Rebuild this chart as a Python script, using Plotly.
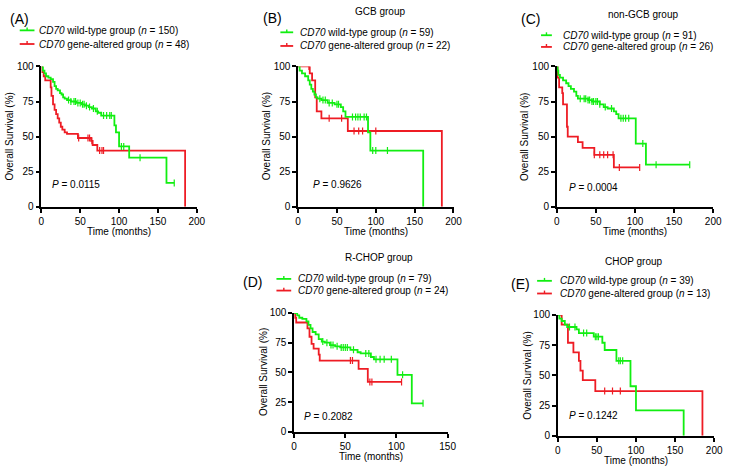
import numpy as np
import plotly.graph_objects as go

W, H = 733, 472
GREEN = '#11ee11'
RED = '#ee1c24'
FONT = 'Arial, Liberation Sans, sans-serif'

panel_ids = ['A', 'B', 'C', 'D', 'E']
panel_titles = ['', 'GCB group', 'non-GCB group', 'R-CHOP group', 'CHOP group']
p_values = ['0.0115', '0.9626', '0.0004', '0.2082', '0.1242']
n_wild = [150, 59, 91, 79, 39]
n_alt = [48, 22, 26, 24, 13]
x_max = [200, 200, 200, 150, 200]

# Kaplan-Meier step points (time in months, survival %), end time, censor times
wt_t = [
    [0, 2, 4, 6, 9, 12, 15, 17, 19, 21, 24, 26, 28, 30, 33, 38, 45, 52, 56, 61, 65, 70, 73, 77, 94, 96, 100, 113, 161],
    [0, 2, 5, 9, 13, 15, 17, 19, 21, 23, 25, 30, 38, 47, 55, 58, 61, 90, 93, 161],
    [0, 1, 2, 4, 8, 12, 15, 18, 22, 25, 27, 40, 45, 55, 60, 65, 73, 76, 79, 101, 114],
    [0, 3, 5, 8, 12, 14, 16, 18, 21, 24, 27, 30, 35, 40, 45, 55, 62, 65, 75, 78, 101, 115],
    [0, 2, 5, 9, 12, 24, 27, 46, 57, 60, 75, 93, 100, 161],
]
wt_s = [
    [100, 97, 95, 93, 92, 91, 89, 86, 84, 83, 81, 80, 78, 77, 76, 75, 74, 73, 72, 71, 70, 68, 67, 65, 58, 53, 43, 35, 17],
    [100, 97, 95, 93, 90, 87, 84, 82, 80, 78, 77, 76, 74, 73, 71, 68, 64, 53, 40, 0],
    [100, 97, 94, 92, 90, 88, 86, 84, 82, 79, 77, 76, 75, 73, 71, 70, 68, 66, 63, 45, 30],
    [100, 98, 96, 95, 93, 90, 87, 84, 82, 78, 76, 75, 73, 72, 71, 69, 67, 66, 63, 61, 48, 24],
    [100, 97, 95, 92, 90, 88, 85, 82, 77, 71, 62, 41, 21, 0],
]
wt_end = [171, 161, 170, 126, 161]
wt_cens = [
    [35, 38, 42, 44, 47, 50, 53, 55, 58, 62, 67, 72, 80, 84, 88, 90, 103, 106, 127, 171],
    [28, 32, 35, 40, 44, 50, 52, 70, 74, 77, 80, 85, 88, 96, 100, 115],
    [30, 35, 37, 40, 42, 45, 47, 50, 52, 55, 62, 70, 82, 85, 88, 92, 110, 127, 170],
    [28, 32, 36, 38, 42, 46, 48, 50, 52, 58, 70, 73, 80, 84, 88, 95, 106, 126],
    [15, 22, 33, 37, 48, 50, 52, 78, 80, 83],
]

alt_t = [
    [0, 1, 3, 5, 12, 13, 15, 17, 19, 21, 23, 25, 27, 30, 33, 47, 64, 66, 72, 185],
    [0, 15, 18, 22, 24, 30, 64, 185],
    [0, 1, 3, 7, 8, 13, 14, 27, 33, 48, 73],
    [0, 1, 2, 13, 15, 17, 19, 24, 25, 63, 72],
    [0, 5, 13, 20, 27, 29, 32, 48, 185],
]
alt_s = [
    [100, 96, 93, 90, 85, 79, 73, 69, 66, 63, 60, 57, 55, 53, 52, 49, 47, 44, 40, 0],
    [100, 95, 90, 78, 68, 63, 54, 0],
    [100, 92, 85, 81, 73, 57, 50, 46, 42, 37, 28],
    [100, 96, 92, 87, 80, 74, 70, 65, 60, 53, 42],
    [100, 92, 77, 69, 62, 54, 46, 37, 0],
]
alt_end = [185, 185, 106, 105, 185]
alt_cens = [
    [48, 60, 62, 65, 75, 78, 80],
    [14, 40, 56, 72, 78, 83, 100],
    [48, 55, 60, 65, 72, 80, 106],
    [55, 57, 74, 76, 105],
    [60, 70, 80],
]

# panel geometry in pixels: axis x0, x1, y_top, y_bottom
boxes = [
    (39, 197, 62, 206),
    (300, 458, 62, 206),
    (563, 722, 62, 206),
    (296, 452, 315, 437),
    (564, 723, 317, 441),
]
label_pos = [(5, 13), (262, 12), (525, 13), (242, 283), (514, 285)]
title_pos = [(0, 0), (383, 6), (651, 9), (382, 258), (642, 262)]
legend_pos = [(17, 32, 35, 25, 39), (282, 295, 300, 27, 41), (547, 558, 567, 30, 42),
              (278, 293, 298, 280, 292), (543, 558, 564, 282, 295)]
p_pos = [(48, 183), (313, 183), (573, 186), (304, 421), (573, 420)]
ytitle_x = [7, 268, 530, 265, 533]
xtitle_y = [231, 231, 231, 462, 466]


def px(x):
    return x / W


def py(y):
    return 1 - y / H


def step_xy(t, s, end):
    x = list(t)
    y = list(s)
    if end > x[-1]:
        x.append(end)
        y.append(y[-1])
    return x, y


def cens_y(t, s, c):
    idx = np.searchsorted(np.array(t), np.array(c), side='right') - 1
    return list(np.array(s)[idx])


fig = go.Figure()
shapes = []
annotations = []

for i in range(5):
    xa = 'x' if i == 0 else f'x{i + 1}'
    ya = 'y' if i == 0 else f'y{i + 1}'
    for t, s, end, cens, col in [(alt_t[i], alt_s[i], alt_end[i], alt_cens[i], RED),
                                 (wt_t[i], wt_s[i], wt_end[i], wt_cens[i], GREEN)]:
        sx, sy = step_xy(t, s, end)
        fig.add_trace(go.Scatter(x=sx, y=sy, mode='lines', line=dict(color=col, width=1.8, shape='hv'),
                                 xaxis=xa, yaxis=ya, showlegend=False, hoverinfo='skip'))
        fig.add_trace(go.Scatter(x=cens, y=cens_y(t, s, cens), mode='markers',
                                 marker=dict(symbol='line-ns-open', size=5, color=col,
                                             line=dict(color=col, width=1.2)),
                                 xaxis=xa, yaxis=ya, showlegend=False, hoverinfo='skip'))

    x0, x1, yt, yb = boxes[i]
    ax = dict(domain=[px(x0), px(x1)], range=[0, x_max[i]], tickvals=list(range(0, x_max[i] + 1, 50)),
              showline=True, linecolor='black', linewidth=1.5, ticks='outside', ticklen=4, tickwidth=1.5,
              tickcolor='black', showgrid=False, zeroline=False, anchor=ya,
              tickfont=dict(size=10, family=FONT, color='black'))
    ay = dict(domain=[py(yb), py(yt)], range=[0, 100], tickvals=[0, 25, 50, 75, 100],
              showline=True, linecolor='black', linewidth=1.5, ticks='outside', ticklen=4, tickwidth=1.5,
              tickcolor='black', showgrid=False, zeroline=False, anchor=xa,
              tickfont=dict(size=10, family=FONT, color='black'))
    fig.update_layout(**{('xaxis' if i == 0 else f'xaxis{i + 1}'): ax,
                         ('yaxis' if i == 0 else f'yaxis{i + 1}'): ay})

    # panel label and title
    lx, ly = label_pos[i]
    annotations.append(dict(x=px(lx), y=py(ly), xref='paper', yref='paper', text=f'({panel_ids[i]})',
                            showarrow=False, xanchor='left', yanchor='middle',
                            font=dict(size=14, family=FONT, color='black')))
    if panel_titles[i]:
        tx, ty = title_pos[i]
        annotations.append(dict(x=px(tx), y=py(ty), xref='paper', yref='paper', text=panel_titles[i],
                                showarrow=False, xanchor='center', yanchor='middle',
                                font=dict(size=10, family=FONT, color='black')))

    # legend
    l0, l1, ltx, lyg, lyr = legend_pos[i]
    for ly_, col, txt in [(lyg, GREEN, f'<i>CD70</i> wild-type group (<i>n</i> = {n_wild[i]})'),
                          (lyr, RED, f'<i>CD70</i> gene-altered group (<i>n</i> = {n_alt[i]})')]:
        shapes.append(dict(type='line', xref='paper', yref='paper', x0=px(l0), x1=px(l1),
                           y0=py(ly_), y1=py(ly_), line=dict(color=col, width=1.8)))
        mid = (l0 + l1) / 2
        shapes.append(dict(type='line', xref='paper', yref='paper', x0=px(mid), x1=px(mid),
                           y0=py(ly_ - 3), y1=py(ly_), line=dict(color=col, width=1.4)))
        annotations.append(dict(x=px(ltx), y=py(ly_), xref='paper', yref='paper', text=txt,
                                showarrow=False, xanchor='left', yanchor='middle',
                                font=dict(size=10, family=FONT, color='black')))

    # P value
    ppx, ppy = p_pos[i]
    annotations.append(dict(x=px(ppx), y=py(ppy), xref='paper', yref='paper',
                            text=f'<i>P</i> = {p_values[i]}', showarrow=False, xanchor='left',
                            yanchor='middle', font=dict(size=10, family=FONT, color='black')))

    # axis titles
    annotations.append(dict(x=px((x0 + x1) / 2), y=py(xtitle_y[i]), xref='paper', yref='paper',
                            text='Time (months)', showarrow=False, xanchor='center', yanchor='middle',
                            font=dict(size=10, family=FONT, color='black')))
    annotations.append(dict(x=px(ytitle_x[i]), y=py((yt + yb) / 2), xref='paper', yref='paper',
                            text='Overall Survival (%)', textangle=-90, showarrow=False,
                            xanchor='center', yanchor='middle',
                            font=dict(size=10, family=FONT, color='black')))

fig.update_layout(width=W, height=H, margin=dict(l=0, r=0, t=0, b=0),
                  paper_bgcolor='white', plot_bgcolor='white', showlegend=False,
                  shapes=shapes, annotations=annotations)

fig.write_html('out.html', config={'displayModeBar': False},
               post_script="document.body.style.margin='0';")
